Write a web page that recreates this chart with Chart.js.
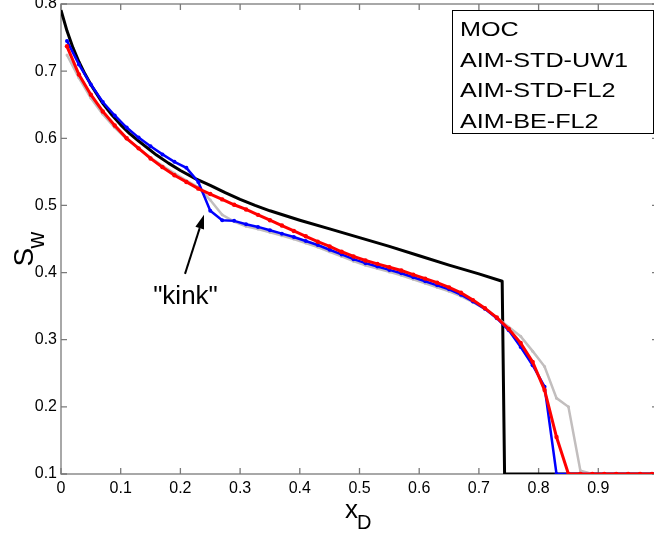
<!DOCTYPE html>
<html>
<head>
<meta charset="utf-8">
<title>Saturation profile</title>
<script src="https://cdn.jsdelivr.net/npm/chart.js@4.4.0/dist/chart.umd.min.js"></script>
<style>
  html, body { margin: 0; padding: 0; background: #fff; overflow: hidden; width: 654px; height: 538px; }
  #wrap { position: absolute; left: 0; top: -30px; width: 700px; height: 600px; }
</style>
</head>
<body>
<div id="wrap"><canvas id="satChart" width="700" height="600" style="width:700px;height:600px"></canvas></div>
<script>
// ========================================
// DATA
// ========================================

// cell centres used by the three AIM runs
const xCells = [0.01, 0.03, 0.05, 0.07, 0.09, 0.11, 0.13, 0.15, 0.17, 0.19,
                0.21, 0.23, 0.25, 0.27, 0.29, 0.31, 0.33, 0.35, 0.37, 0.39,
                0.41, 0.43, 0.45, 0.47, 0.49, 0.51, 0.53, 0.55, 0.57, 0.59,
                0.61, 0.63, 0.65, 0.67, 0.69, 0.71, 0.73, 0.75, 0.77, 0.79,
                0.81, 0.83, 0.85, 0.87, 0.89, 0.91, 0.93, 0.95, 0.97, 0.99];

const swStdUw1 = [0.724, 0.690, 0.660, 0.636, 0.616, 0.599, 0.585, 0.571, 0.559, 0.548,
                  0.537, 0.527, 0.508, 0.486, 0.476, 0.469, 0.465, 0.460, 0.455, 0.450,
                  0.444, 0.438, 0.431, 0.424, 0.417, 0.411, 0.406, 0.401, 0.396, 0.390,
                  0.384, 0.378, 0.372, 0.365, 0.356, 0.346, 0.333, 0.319, 0.305, 0.283,
                  0.260, 0.213, 0.200, 0.105, 0.100, 0.100, 0.100, 0.100, 0.100, 0.100];

const swStdFl2 = [0.745, 0.710, 0.680, 0.654, 0.634, 0.616, 0.601, 0.588, 0.576, 0.565,
                  0.556, 0.535, 0.492, 0.478, 0.477, 0.472, 0.468, 0.463, 0.458, 0.453,
                  0.447, 0.441, 0.434, 0.427, 0.420, 0.414, 0.409, 0.404, 0.399, 0.393,
                  0.387, 0.381, 0.375, 0.367, 0.357, 0.346, 0.332, 0.314, 0.289, 0.262,
                  0.230, 0.100, 0.100, 0.100, 0.100, 0.100, 0.100, 0.100, 0.100, 0.100];

const swBeFl2 = [0.737, 0.695, 0.665, 0.640, 0.619, 0.600, 0.585, 0.570, 0.557, 0.545,
                 0.535, 0.525, 0.517, 0.509, 0.501, 0.494, 0.486, 0.478, 0.470, 0.462,
                 0.454, 0.446, 0.439, 0.431, 0.424, 0.418, 0.413, 0.408, 0.403, 0.397,
                 0.391, 0.385, 0.378, 0.370, 0.359, 0.347, 0.333, 0.316, 0.295, 0.267,
                 0.225, 0.155, 0.100, 0.100, 0.100, 0.100, 0.100, 0.100, 0.100, 0.100];

// method of characteristics (analytic) solution
const xMoc  = [0, 0.01, 0.02, 0.03, 0.04, 0.05, 0.07, 0.085, 0.10, 0.115, 0.13, 0.16, 0.18,
               0.20, 0.225, 0.25, 0.275, 0.30, 0.325, 0.35, 0.375, 0.40, 0.45, 0.50,
               0.55, 0.60, 0.65, 0.70, 0.739, 0.743, 1.0];
const swMoc = [0.791, 0.760, 0.735, 0.714, 0.696, 0.680, 0.652, 0.635, 0.620, 0.607, 0.596, 0.575, 0.563,
               0.552, 0.540, 0.530, 0.519, 0.509, 0.500, 0.492, 0.485, 0.478, 0.465, 0.452,
               0.439, 0.425, 0.411, 0.398, 0.387, 0.100, 0.100];

const seriesLabels = ['MOC', 'AIM-STD-UW1', 'AIM-STD-FL2', 'AIM-BE-FL2'];
const yTicks = [0.1, 0.2, 0.3, 0.4, 0.5, 0.6, 0.7, 0.8];
const xTicks = [0, 0.1, 0.2, 0.3, 0.4, 0.5, 0.6, 0.7, 0.8, 0.9, 1.0];

// "kink" note, in data units
const kinkArrow = { tipX: 0.2395, tipY: 0.486, tailX: 0.2077, tailY: 0.398 };
const kinkText = { x: 0.2085, y: 0.3636, text: '"kink"' };

const FONT = "'Liberation Sans', Arial, Helvetica, sans-serif";

function toPoints(xs, ys) {
    return xs.map((x, i) => ({ x: x, y: ys[i] }));
}

// ========================================
// PLUGINS
// ========================================

// axes box with inward ticks (drawn under the lines)
const framePlugin = {
    id: 'frame',
    beforeDatasetsDraw(chart) {
        const { ctx, chartArea: { top, bottom, left, right }, scales: { x, y } } = chart;
        ctx.save();
        ctx.strokeStyle = '#7a7a7a';
        ctx.lineWidth = 1.3;
        ctx.strokeRect(left, top, right - left, bottom - top);
        ctx.beginPath();
        xTicks.forEach(v => {
            const px = x.getPixelForValue(v);
            ctx.moveTo(px, bottom); ctx.lineTo(px, bottom - 6);
            ctx.moveTo(px, top); ctx.lineTo(px, top + 6);
        });
        yTicks.forEach(v => {
            const py = y.getPixelForValue(v);
            ctx.moveTo(left, py); ctx.lineTo(left + 6, py);
            ctx.moveTo(right, py); ctx.lineTo(right - 6, py);
        });
        ctx.stroke();
        ctx.restore();
    }
};

// legend box, axis titles and the "kink" note
const notesPlugin = {
    id: 'notes',
    afterDraw(chart) {
        const { ctx, chartArea: { top, bottom, left, right }, scales: { x, y } } = chart;
        ctx.save();

        // legend
        const bx = right - 206, by = top + 6;
        ctx.fillStyle = '#fff';
        ctx.fillRect(bx, by, 201, 123);
        ctx.strokeStyle = '#000';
        ctx.lineWidth = 1;
        ctx.strokeRect(bx + 0.5, by + 0.5, 201, 123);
        ctx.fillStyle = '#000';
        ctx.font = '21px ' + FONT;
        ctx.textAlign = 'left';
        ctx.textBaseline = 'alphabetic';
        chart.data.datasets.forEach((ds, i) => {
            ctx.save();
            ctx.translate(bx + 8, by + 26 + i * 30.5);
            ctx.scale(1.2, 1);
            ctx.fillText(ds.label, 0, 0);
            ctx.restore();
        });

        // x title: x_D
        ctx.font = '26px ' + FONT;
        ctx.fillText('x', left + 284, bottom + 44);
        ctx.font = '20px ' + FONT;
        ctx.fillText('D', left + 296, bottom + 55);

        // y title: S_w (rotated)
        ctx.save();
        ctx.translate(33, y.getPixelForValue(0.5) + 61);
        ctx.rotate(-Math.PI / 2);
        ctx.font = '28px ' + FONT;
        ctx.fillText('S', 0, 0);
        ctx.font = '23px ' + FONT;
        ctx.fillText('w', 18, 10.5);
        ctx.restore();

        // kink arrow
        const tx = x.getPixelForValue(kinkArrow.tipX), ty = y.getPixelForValue(kinkArrow.tipY);
        const sx = x.getPixelForValue(kinkArrow.tailX), sy = y.getPixelForValue(kinkArrow.tailY);
        const ang = Math.atan2(ty - sy, tx - sx);
        const headLen = 14, headHalf = 4.5;
        const hx = tx - headLen * Math.cos(ang), hy = ty - headLen * Math.sin(ang);
        ctx.strokeStyle = '#000';
        ctx.lineWidth = 2;
        ctx.beginPath();
        ctx.moveTo(sx, sy);
        ctx.lineTo(hx, hy);
        ctx.stroke();
        ctx.beginPath();
        ctx.moveTo(tx, ty);
        ctx.lineTo(hx + headHalf * Math.sin(ang), hy - headHalf * Math.cos(ang));
        ctx.lineTo(hx - headHalf * Math.sin(ang), hy + headHalf * Math.cos(ang));
        ctx.closePath();
        ctx.fillStyle = '#000';
        ctx.fill();

        ctx.font = '26px ' + FONT;
        ctx.textAlign = 'center';
        ctx.textBaseline = 'middle';
        ctx.fillText(kinkText.text, x.getPixelForValue(kinkText.x), y.getPixelForValue(kinkText.y));

        ctx.restore();
    }
};

// ========================================
// CHART
// ========================================

const ctx = document.getElementById('satChart').getContext('2d');

new Chart(ctx, {
    type: 'scatter',
    data: {
        datasets: [{
            label: seriesLabels[0],
            data: toPoints(xMoc, swMoc),
            showLine: true,
            borderColor: '#000000',
            borderWidth: 3,
            borderJoinStyle: 'round',
            pointRadius: 0,
            order: 4
        }, {
            label: seriesLabels[1],
            data: toPoints(xCells, swStdUw1),
            showLine: true,
            borderColor: '#c2bebe',
            backgroundColor: '#c2bebe',
            borderWidth: 2.5,
            pointRadius: 1.5,
            pointBorderWidth: 0,
            order: 3
        }, {
            label: seriesLabels[2],
            data: toPoints(xCells, swStdFl2),
            showLine: true,
            borderColor: '#0000ff',
            backgroundColor: '#0000ff',
            borderWidth: 2.5,
            pointRadius: 2,
            pointBorderWidth: 0,
            order: 2
        }, {
            label: seriesLabels[3],
            data: toPoints(xCells, swBeFl2),
            showLine: true,
            borderColor: '#ff0000',
            backgroundColor: '#ff0000',
            borderWidth: 3,
            pointRadius: 2.2,
            pointBorderWidth: 0,
            order: 1
        }]
    },
    options: {
        responsive: false,
        devicePixelRatio: 1,
        animation: false,
        layout: { padding: { left: 0, top: 34, right: 42, bottom: 26 } },
        plugins: {
            legend: { display: false },
            tooltip: { enabled: false }
        },
        scales: {
            x: {
                type: 'linear',
                min: 0,
                max: 1,
                grid: { display: false, drawTicks: false },
                border: { display: false },
                afterBuildTicks: scale => { scale.ticks = xTicks.map(v => ({ value: v })); },
                afterFit: scale => { scale.height = 70; },
                ticks: {
                    padding: 5,
                    color: '#000',
                    maxRotation: 0,
                    autoSkip: false,
                    font: { family: FONT, size: 16 },
                    callback: function(value) {
                        if (value >= 0.999) return '';
                        return value === 0 ? '0' : value.toFixed(1);
                    }
                }
            },
            y: {
                min: 0.1,
                max: 0.8,
                grid: { display: false, drawTicks: false },
                border: { display: false },
                afterBuildTicks: scale => { scale.ticks = yTicks.map(v => ({ value: v })); },
                afterFit: scale => { scale.width = 61; },
                ticks: {
                    padding: 4,
                    color: '#000',
                    autoSkip: false,
                    font: { family: FONT, size: 16 },
                    callback: function(value) {
                        return value.toFixed(1);
                    }
                }
            }
        }
    },
    plugins: [framePlugin, notesPlugin]
});
</script>
</body>
</html>
